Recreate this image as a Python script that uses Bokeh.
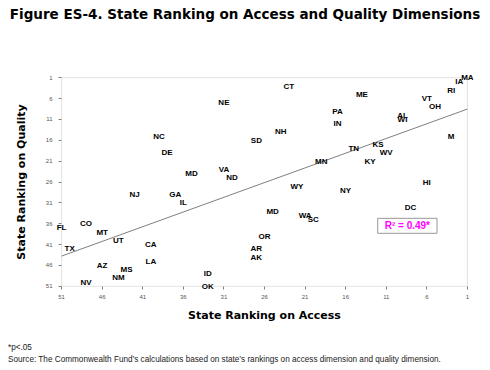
import html
import numpy as np
from bokeh.plotting import figure
from bokeh.layouts import column
from bokeh.models import (ColumnDataSource, LabelSet, Label, Range1d, FixedTicker,
                          BoxAnnotation, Div)
from bokeh.core.properties import value
from bokeh.embed import file_html
from bokeh.resources import INLINE

# ---- data ----
states = ["NE", "NC", "SD", "DE", "MD", "VA", "ND", "CT", "ME", "PA", "IN", "NH",
          "AL", "WI", "VT", "OH", "RI", "IA", "MA", "M", "TN", "KS", "WV", "KY",
          "MN", "NJ", "GA", "IL", "FL", "CO", "MT", "UT", "TX", "CA", "LA", "AZ",
          "MS", "NM", "NV", "ID", "OK", "OR", "AR", "AK", "WY", "NY", "HI", "MD",
          "WA", "SC", "DC"]
access_rank = [31, 39, 27, 38, 35, 31, 30, 23, 14, 17, 17, 24,
               9, 9, 6, 5, 3, 2, 1, 3, 15, 12, 11, 13,
               19, 42, 37, 36, 51, 48, 46, 44, 50, 40, 40, 46,
               43, 44, 48, 33, 33, 26, 27, 27, 22, 16, 6, 25,
               21, 20, 8]
quality_rank = [7, 15, 16, 19, 24, 23, 25, 3, 5, 9, 12, 14,
                10, 11, 6, 8, 4, 2, 1, 15, 18, 17, 19, 21,
                21, 29, 29, 31, 37, 36, 38, 40, 42, 41, 45, 46,
                47, 49, 50, 48, 51, 39, 42, 44, 27, 28, 26, 33,
                34, 35, 32]
x_ticks = [51, 46, 41, 36, 31, 26, 21, 16, 11, 6, 1]
y_ticks = [1, 6, 11, 16, 21, 26, 31, 36, 41, 46, 51]
r2_text = "R\u00b2 = 0.49*"

title_text = "Figure ES-4. State Ranking on Access and Quality Dimensions"
x_title = "State Ranking on Access"
y_title = "State Ranking on Quality"
note1 = "*p<.05"
note2 = ("Source: The Commonwealth Fund\u2019s calculations based on state\u2019s rankings "
         "on access dimension and quality dimension.")

W = 490
TITLE_H, NOTE_H = 30, 40
ML, MT = 55, 43
FW, FH = 418, 217
MB = 40
FIG_H = MT + FH + MB

# ranges padded a little so that edge labels are not clipped by the frame
p = figure(width=W, height=FIG_H, output_backend="svg", toolbar_location=None,
           x_range=Range1d(51.75, 0.25), y_range=Range1d(52, 0),
           min_border_left=ML, min_border_right=W - ML - FW,
           min_border_top=MT, min_border_bottom=MB)
p.grid.visible = False
p.outline_line_color = None
p.background_fill_color = "white"
p.border_fill_color = "white"

for ax in (p.xaxis[0], p.yaxis[0]):
    ax.axis_line_color = None
    ax.major_tick_line_color = "#808080"
    ax.minor_tick_line_color = None
    ax.major_label_text_font = "Liberation Sans"
    ax.major_label_text_font_size = "6px"
    ax.major_label_text_color = "#555555"
    ax.axis_label_text_font = "DejaVu Sans"
    ax.axis_label_text_font_style = "bold"
    ax.axis_label_text_font_size = "11px"
    ax.axis_label_text_color = "black"

p.xaxis.ticker = FixedTicker(ticks=x_ticks)
p.yaxis.ticker = FixedTicker(ticks=y_ticks)
p.xaxis.major_tick_in = 4
p.xaxis.major_tick_out = -1
p.yaxis.major_tick_in = 6
p.yaxis.major_tick_out = -3
p.xaxis.major_label_standoff = 4
p.yaxis.major_label_standoff = 3
p.xaxis.axis_label = x_title
p.yaxis.axis_label = y_title
p.xaxis.axis_label_standoff = 7
p.yaxis.axis_label_standoff = 15

# plot-area box spanning the tick range
p.add_layout(BoxAnnotation(left=x_ticks[0], right=x_ticks[-1], top=y_ticks[0],
                           bottom=y_ticks[-1], fill_alpha=0, line_color="#a0a0a0",
                           line_width=1))

# trendline from a least-squares fit of the data
coef = np.polyfit(access_rank, quality_rank, 1)
xs = np.array([float(x_ticks[0]), float(x_ticks[-1])])
p.line(xs, np.polyval(coef, xs), line_color="#808080", line_width=1)

src = ColumnDataSource(dict(x=access_rank, y=quality_rank, state=states))
p.add_layout(LabelSet(x="x", y="y", text="state", source=src,
                      text_align="center", text_baseline="middle",
                      text_font=value("Liberation Sans"), text_font_size=value("8px"),
                      text_font_style="bold", text_color="black"))

p.add_layout(Label(x=8.4, y=36.5, text=r2_text, text_align="center",
                   text_baseline="middle", text_font="Liberation Sans",
                   text_font_style="bold", text_font_size="10px",
                   text_color="#ff00ff", border_line_color="#999999",
                   background_fill_color="white", padding=(7, 2)))

title_div = Div(
    text=('<div style="font-family:\'DejaVu Sans\';font-weight:bold;font-size:13.5px;'
          'text-align:center;width:490px;line-height:16px;padding-top:6px;'
          'color:black;white-space:nowrap">' + html.escape(title_text) + '</div>'),
    width=W, height=TITLE_H, margin=(0, 0, 0, 0))

note_div = Div(
    text=('<div style="font-family:\'Liberation Sans\';font-size:8.2px;line-height:12px;'
          'padding-top:12px;padding-left:8px;color:#222222;white-space:nowrap">'
          + html.escape(note1) + '<br>' + html.escape(note2) + '</div>'),
    width=W, height=NOTE_H, margin=(0, 0, 0, 0))

layout = column(title_div, p, note_div, spacing=0)

open("out.html", "w").write(file_html(layout, INLINE))
